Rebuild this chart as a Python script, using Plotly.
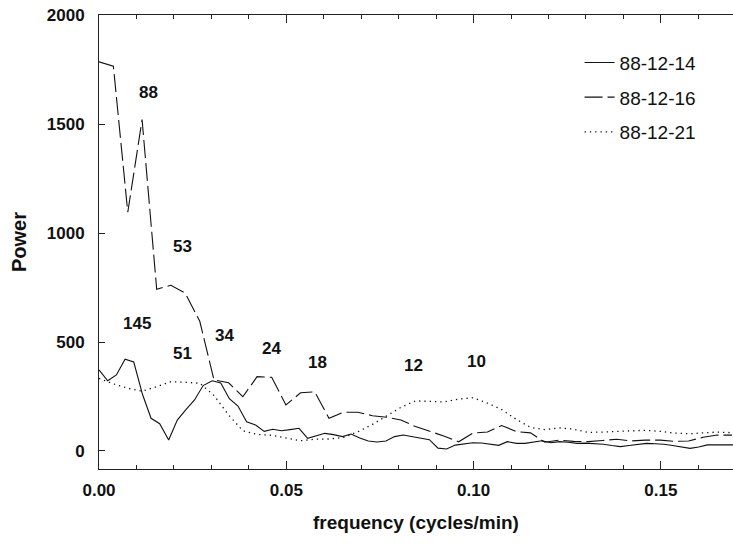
import plotly.graph_objects as go

# ---- data ----
freq_14 = [0.0000, 0.00232, 0.00464, 0.00696, 0.00928, 0.0116, 0.0139, 0.0162, 0.0186, 0.0209,
           0.0232, 0.0255, 0.0278, 0.0302, 0.0325, 0.0348, 0.0371, 0.0394, 0.0418, 0.0441,
           0.0464, 0.0487, 0.0510, 0.0534, 0.0557, 0.0580, 0.0603, 0.0626, 0.0650, 0.0673,
           0.0696, 0.0719, 0.0742, 0.0766, 0.0789, 0.0812, 0.0835, 0.0858, 0.0882, 0.0905,
           0.0928, 0.0951, 0.0974, 0.0998, 0.1021, 0.1044, 0.1067, 0.1090, 0.1114, 0.1137,
           0.1160, 0.1183, 0.1206, 0.1230, 0.1253, 0.1276, 0.1299, 0.1322, 0.1346, 0.1369,
           0.1392, 0.1415, 0.1438, 0.1462, 0.1485, 0.1508, 0.1531, 0.1554, 0.1578, 0.1601,
           0.1624, 0.1647, 0.1670, 0.1693]
power_14 = [372, 322, 349, 421, 408, 260, 150, 125, 50, 142,
            190, 234, 300, 322, 312, 240, 206, 134, 119, 90,
            100, 93, 98, 104, 58, 70, 81, 75, 66, 78,
            60, 46, 41, 46, 66, 73, 65, 58, 52, 13,
            9, 27, 34, 38, 37, 32, 26, 43, 35, 35,
            40, 47, 38, 43, 40, 35, 36, 34, 31, 25,
            20, 25, 30, 35, 33, 31, 25, 18, 12, 18,
            28, 28, 28, 28]

freq_16 = [0.0000, 0.00384, 0.00768, 0.0115, 0.0154, 0.0192, 0.0230, 0.0269, 0.0307, 0.0346,
           0.0384, 0.0422, 0.0461, 0.0499, 0.0538, 0.0576, 0.0614, 0.0653, 0.0691, 0.0730,
           0.0768, 0.0806, 0.0845, 0.0883, 0.0922, 0.0960, 0.0998, 0.1037, 0.1075, 0.1114,
           0.1152, 0.1190, 0.1229, 0.1267, 0.1306, 0.1344, 0.1382, 0.1421, 0.1459, 0.1498,
           0.1536, 0.1574, 0.1613, 0.1651, 0.1690]
power_16 = [1785, 1765, 1095, 1520, 742, 760, 725, 595, 326, 313,
            249, 341, 338, 211, 267, 271, 150, 178, 178, 162,
            155, 142, 112, 90, 68, 42, 82, 87, 117, 89,
            83, 40, 50, 44, 43, 48, 54, 46, 50, 50,
            44, 46, 63, 73, 73]

freq_21 = freq_16
power_21 = [333, 308, 288, 274, 295, 318, 315, 311, 255, 165,
            93, 76, 72, 59, 47, 54, 55, 62, 88, 122,
            163, 200, 230, 226, 225, 238, 244, 220, 190, 145,
            108, 98, 106, 100, 85, 87, 89, 92, 95, 90,
            82, 79, 84, 87, 84]

series_names = ["88-12-14", "88-12-16", "88-12-21"]

label_text = ["88", "53", "145", "51", "34", "24", "18", "12", "10"]
label_x = [0.0132, 0.0224, 0.0101, 0.0224, 0.0336, 0.0461, 0.0584, 0.0839, 0.1008]
label_y = [1643, 937, 586, 448, 532, 471, 405, 394, 410]

x_ticks = [0.00, 0.05, 0.10, 0.15]
x_tick_text = ["0.00", "0.05", "0.10", "0.15"]
y_ticks = [0, 500, 1000, 1500, 2000]

FONT = "Liberation Sans, Arial, sans-serif"

fig = go.Figure()
fig.add_trace(go.Scatter(x=freq_14, y=power_14, mode="lines", name=series_names[0],
                         legendgroup="a",
                         line=dict(color="#111111", width=1.1, dash="solid")))
fig.add_trace(go.Scatter(x=freq_16, y=power_16, mode="lines", name=series_names[1],
                         legendgroup="b",
                         line=dict(color="#111111", width=1.1, dash="18px,5px")))
fig.add_trace(go.Scatter(x=freq_21, y=power_21, mode="lines", name=series_names[2],
                         legendgroup="c",
                         line=dict(color="#111111", width=1.3, dash="1.3px,4px")))

for t, x, y in zip(label_text, label_x, label_y):
    fig.add_annotation(x=x, y=y, text=t, showarrow=False,
                       font=dict(family=FONT, size=17, color="#111111", weight="bold"))

fig.update_layout(
    width=733, height=550,
    margin=dict(l=99, r=0, t=15, b=81),
    paper_bgcolor="white", plot_bgcolor="white",
    showlegend=True,
    legend=dict(x=0.758, y=0.937, xanchor="left", yanchor="top",
                font=dict(family=FONT, size=19, color="#111111"),
                tracegroupgap=7, bgcolor="rgba(0,0,0,0)"),
    font=dict(family=FONT, color="#111111"),
)

fig.update_xaxes(
    range=[0, 0.16925], tickvals=x_ticks, ticktext=x_tick_text,
    showgrid=False, zeroline=False,
    showline=True, linecolor="#222222", linewidth=1, mirror="allticks",
    ticks="inside", ticklen=8, tickcolor="#222222",
    minor=dict(dtick=0.01, tick0=0, ticks="inside", ticklen=4, tickcolor="#222222"),
    tickfont=dict(family=FONT, size=17, weight="bold"),
    ticklabelstandoff=6,
    title=dict(text="frequency (cycles/min)", font=dict(family=FONT, size=19, weight="bold"),
               standoff=16),
)
fig.update_yaxes(
    range=[-82.6, 2000], tickvals=y_ticks,
    showgrid=False, zeroline=False,
    showline=True, linecolor="#222222", linewidth=1,
    ticks="inside", ticklen=6, tickcolor="#222222",
    tickfont=dict(family=FONT, size=17, weight="bold"),
    ticklabelstandoff=10,
    title=dict(text="Power", font=dict(family=FONT, size=20, weight="bold"), standoff=14),
)

fig.write_html("out.html")
